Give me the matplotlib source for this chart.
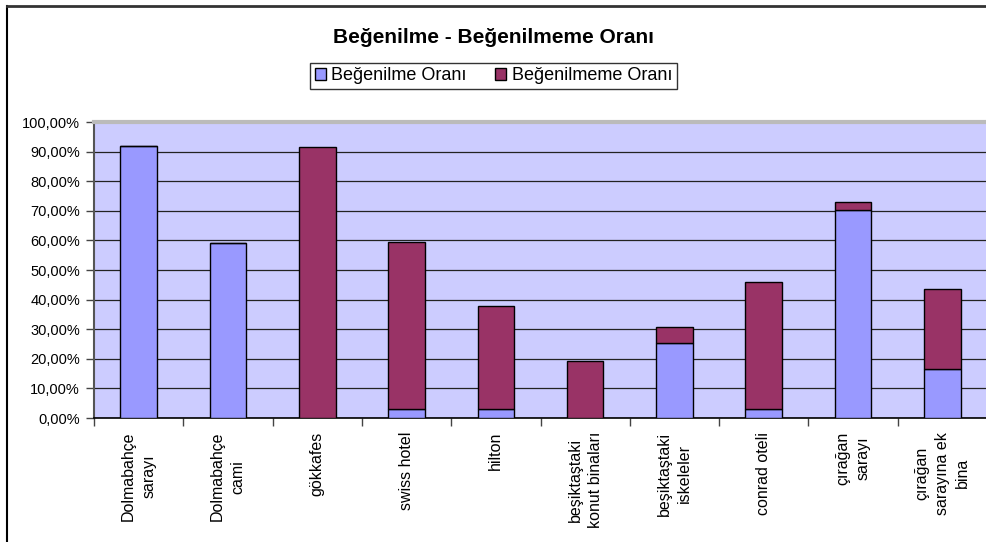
import matplotlib.pyplot as plt
from matplotlib.lines import Line2D
from matplotlib.ticker import FuncFormatter, MultipleLocator

plt.rcParams['font.family'] = ['Liberation Sans', 'DejaVu Sans']

categories = [
    'Dolmabahçe\nsarayı', 'Dolmabahçe\ncami', 'gökkafes', 'swiss hotel', 'hilton',
    'beşiktaştaki\nkonut binaları', 'beşiktaştaki\niskeleler', 'conrad oteli',
    'çırağan\nsarayı', 'çırağan\nsarayına ek\nbina',
]
begenilme = [92.0, 59.2, 0.0, 3.0, 3.0, 0.0, 25.2, 3.0, 70.2, 16.4]
begenilmeme = [0.0, 0.0, 91.5, 56.5, 34.8, 19.3, 5.4, 43.0, 2.9, 27.1]

W, H = 987, 542
fig = plt.figure(figsize=(W / 100, H / 100), dpi=100)
ax = fig.add_axes([94 / W, 1 - 418 / H, (W - 94) / W, (418 - 122) / H])

# outer chart frame (left and top edges visible)
fig.add_artist(Line2D([6.5 / W, 6.5 / W], [0, 1 - 5.5 / H], color='black', lw=1.5,
                      transform=fig.transFigure))
fig.add_artist(Line2D([6.5 / W, 1], [1 - 5.5 / H, 1 - 5.5 / H], color='#333333', lw=2,
                      transform=fig.transFigure))

x = range(len(categories))
ax.set_facecolor('#CCCCFF')
ax.bar(x, begenilme, width=0.41, color='#9999FF', edgecolor='black', lw=1,
       label='Beğenilme Oranı', zorder=3)
ax.bar(x, begenilmeme, width=0.41, bottom=begenilme, color='#993366', edgecolor='black',
       lw=1, label='Beğenilmeme Oranı', zorder=3)

ax.set_xlim(-0.5, len(categories) - 0.5)
ax.set_ylim(0, 100)
ax.yaxis.set_major_locator(MultipleLocator(10))
ax.yaxis.set_major_formatter(FuncFormatter(lambda v, p: f'{v:.2f}'.replace('.', ',') + '%'))
ax.grid(axis='y', color='#222222', lw=0.9, zorder=1)
ax.tick_params(axis='y', direction='out', length=6, width=1, color='#444444',
               labelsize=10.5, pad=4)

ax.set_xticks(list(x))
ax.set_xticklabels(categories, rotation=90, fontsize=11.5, va='top', ha='center',
                   multialignment='center', linespacing=1.45)
ax.tick_params(axis='x', which='major', length=0, pad=10)
ax.set_xticks([i - 0.5 for i in range(len(categories) + 1)], minor=True)
ax.tick_params(axis='x', which='minor', direction='out', length=6, width=1, color='#444444')

ax.spines['right'].set_visible(False)
ax.spines['top'].set_color('#BBBBBB')
ax.spines['top'].set_linewidth(3)
ax.spines['left'].set_color('#555555')
ax.spines['left'].set_linewidth(1.5)
ax.spines['bottom'].set_color('black')
ax.spines['bottom'].set_linewidth(1.2)

fig.text(0.5, 1 - 38 / H, 'Beğenilme - Beğenilmeme Oranı', ha='center', va='center',
         fontsize=15, fontweight='bold')

leg = fig.legend(loc='center', bbox_to_anchor=(0.5, 1 - 76 / H), ncol=2, fontsize=13,
                 frameon=True, fancybox=False, handlelength=0.6, handleheight=0.6,
                 handletextpad=0.3, columnspacing=1.6, borderpad=0.25, borderaxespad=0)
leg.get_frame().set_edgecolor('black')
leg.get_frame().set_linewidth(1)

fig.savefig('out.png', dpi=100)
